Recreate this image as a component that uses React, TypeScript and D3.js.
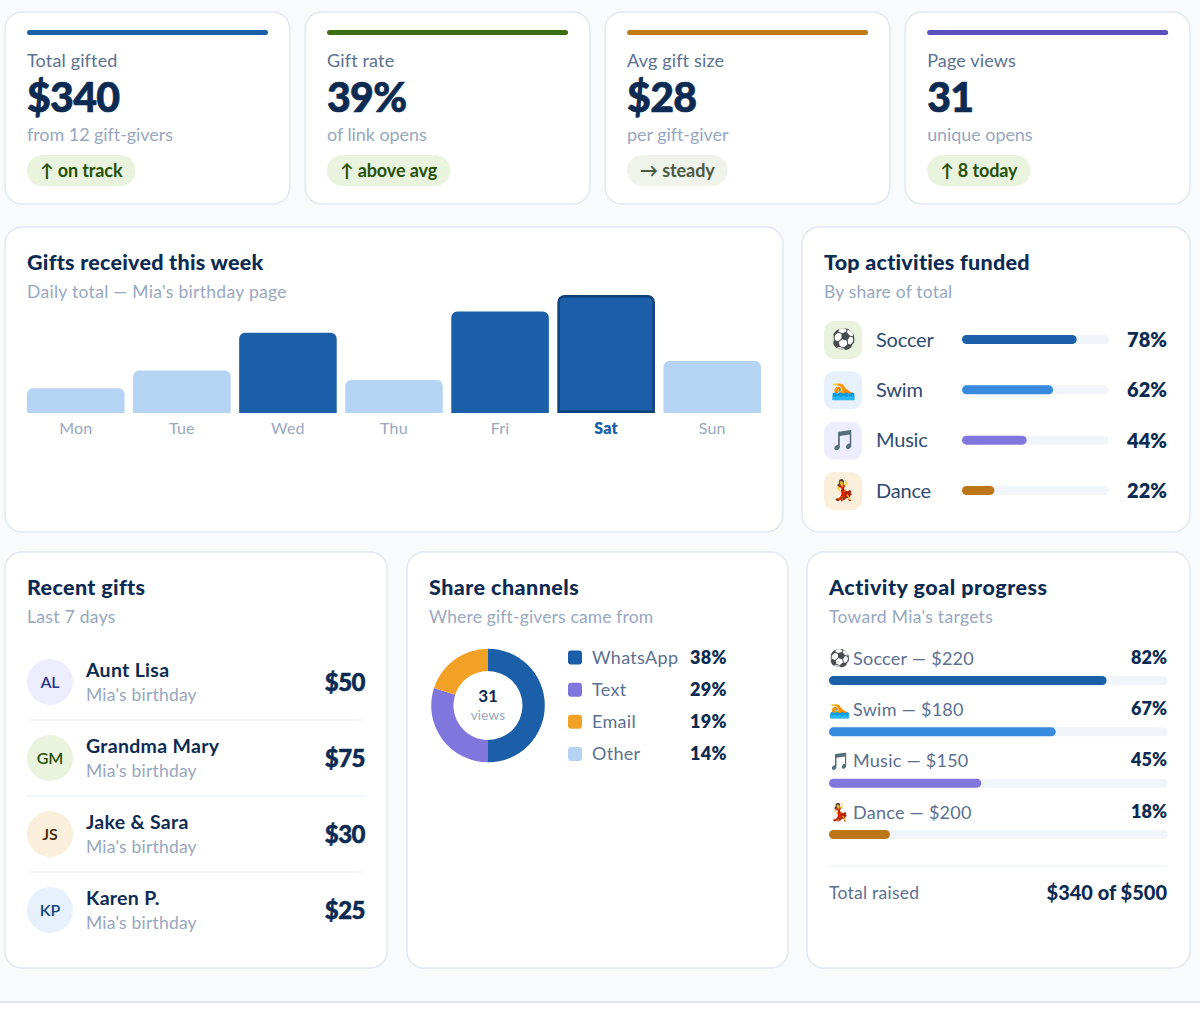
import * as d3 from 'd3'
import { useLayoutEffect, useRef, useState } from 'react'

const kpiLabels = ['Total gifted', 'Gift rate', 'Avg gift size', 'Page views']
const kpiValues = ['$340', '39%', '$28', '31']
const kpiNotes = ['from 12 gift-givers', 'of link opens', 'per gift-giver', 'unique opens']
const kpiBadges = ['↑ on track', '↑ above avg', '→ steady', '↑ 8 today']
const kpiAccents = ['#1a5fa8', '#3b6d11', '#c27a12', '#5b4fc0']

const days = ['Mon', 'Tue', 'Wed', 'Thu', 'Fri', 'Sat', 'Sun']
const dayValues = [21, 36, 68, 28, 86, 100, 44]
const strongDays = ['Wed', 'Fri', 'Sat']
const peakDay = 'Sat'

const activities = ['Soccer', 'Swim', 'Music', 'Dance']
const activityIcons = ['⚽', '🏊', '🎵', '💃']
const activityShares = [78, 62, 44, 22]
const activityColors = ['#1a5fa8', '#378add', '#8176dd', '#bb7618']
const activityTints = ['#eaf3de', '#e7f1fb', '#eeedfe', '#faefda']

const givers = ['Aunt Lisa', 'Grandma Mary', 'Jake & Sara', 'Karen P.']
const giverInitials = ['AL', 'GM', 'JS', 'KP']
const giverAmounts = ['$50', '$75', '$30', '$25']
const giverTints = ['#eeedfe', '#eaf3de', '#faefda', '#e7f1fb']
const giverInks = ['#27348b', '#27500a', '#412402', '#0c447c']

const channels = ['WhatsApp', 'Text', 'Email', 'Other']
const channelShares = [38, 29, 19, 14]
const channelColors = ['#1a5fa8', '#8176dd', '#f2a127', '#b5d4f4']
// the ring in the picture does not follow the legend numbers
const ringShares = [50, 30, 20]

const goalAmounts = ['$220', '$180', '$150', '$200']
const goalProgress = [82, 67, 45, 18]

const FONT = 'Lato, "Noto Sans", sans-serif'
const DARK = '#0d2b52'
const MID = '#5c7090'
const MUTED = '#98a7c0'
const LINE = '#e2e8f2'
const TRACK = '#f1f5f9'

const CARD_R = 17

function Card({ x0, x1, y0, y1 }: { x0: number; x1: number; y0: number; y1: number }) {
  return <rect x={x0} y={y0} width={x1 - x0} height={y1 - y0} rx={CARD_R} fill="#fff" stroke={LINE} strokeWidth={1.5} />
}

function Label({ x, y, size, weight = 400, fill = DARK, anchor = 'start', children, spacing = 0, thick = 0 }: any) {
  return (
    <text
      x={x}
      y={y}
      fontSize={size}
      fontWeight={weight}
      fill={fill}
      textAnchor={anchor}
      letterSpacing={spacing}
      stroke={thick ? fill : 'none'}
      strokeWidth={thick}
    >
      {children}
    </text>
  )
}

function Pill({ x, y, text, bg, ink }: { x: number; y: number; text: string; bg: string; ink: string }) {
  const ref = useRef<SVGTextElement>(null)
  const [w, setW] = useState(90)
  useLayoutEffect(() => {
    if (ref.current) setW(ref.current.getComputedTextLength())
  }, [text])
  return (
    <g>
      <rect x={x} y={y} width={w + 26} height={31} rx={15.5} fill={bg} />
      <text ref={ref} x={x + 13} y={y + 21.5} fontSize={18} fontWeight={700} fill={ink} letterSpacing={-0.1}>
        {text}
      </text>
    </g>
  )
}

// flat at the bottom, rounded at the top
function barPath(x: number, y: number, w: number, h: number, r: number) {
  const p = d3.path()
  p.moveTo(x, y + h)
  p.lineTo(x, y + r)
  p.arcTo(x, y, x + r, y, r)
  p.lineTo(x + w - r, y)
  p.arcTo(x + w, y, x + w, y + r, r)
  p.lineTo(x + w, y + h)
  p.closePath()
  return p.toString()
}

function Meter({ x0, x1, y, h, value, color }: any) {
  const x = d3.scaleLinear().domain([0, 100]).range([x0, x1])
  return (
    <g>
      <rect x={x(0)} y={y} width={x(100) - x(0)} height={h} rx={h / 2} fill={TRACK} />
      <rect x={x(0)} y={y} width={x(value) - x(0)} height={h} rx={h / 2} fill={color} />
    </g>
  )
}

export default function App() {
  const kpiX = d3.scaleBand<number>().domain(d3.range(4)).range([5, 1190]).paddingInner(0.0506)
  const barX = d3.scaleBand<string>().domain(days).range([27, 761]).paddingInner(0.08)
  const barY = d3.scaleLinear().domain([0, 100]).range([413, 295])
  const activityY = d3.scalePoint<string>().domain(activities).range([340, 491])
  const giverY = d3.scalePoint<string>().domain(givers).range([682, 910])
  const channelY = d3.scalePoint<string>().domain(channels).range([657.5, 754])
  const goalY = d3.scalePoint<string>().domain(activities).range([676, 830])

  const pie = d3.pie<number>().sort(null).value((d) => d)
  const arc = d3.arc<d3.PieArcDatum<number>>().innerRadius(34.5).outerRadius(56.8)

  return (
    <svg
      width={1200}
      height={1021}
      viewBox="0 0 1200 1021"
      style={{ position: 'absolute', left: 0, top: 0, fontFamily: FONT }}
    >
      <rect width={1200} height={1021} fill="#fff" />
      <rect width={1200} height={1002} fill="#f8fafc" />
      <rect y={1001} width={1200} height={2} fill={LINE} />

      {kpiLabels.map((label, i) => {
        const x0 = kpiX(i)!
        const left = x0 + 22
        const flat = kpiBadges[i].startsWith('→')
        return (
          <g key={label}>
            <Card x0={x0} x1={x0 + kpiX.bandwidth()} y0={12} y1={204} />
            <rect x={left} y={30} width={241} height={5} rx={2.5} fill={kpiAccents[i]} />
            <Label x={left} y={66.5} size={18} fill={MID} spacing={0.15}>{label}</Label>
            <Label x={left} y={111.5} size={41} weight={900} spacing={-0.7} thick={0.7}>{kpiValues[i]}</Label>
            <Label x={left} y={141} size={18} fill={MUTED} spacing={-0.07}>{kpiNotes[i]}</Label>
            <Pill
              x={left}
              y={155}
              text={kpiBadges[i]}
              bg={flat ? '#f0f2ec' : '#eaf3de'}
              ink={flat ? '#4c5a42' : '#27500a'}
            />
          </g>
        )
      })}

      <Card x0={5} x1={783} y0={227} y1={532} />
      <Label x={27} y={270} size={21.5} weight={900} spacing={0.25}>Gifts received this week</Label>
      <Label x={27} y={297.5} size={17.5} fill={MUTED} spacing={0.3}>Daily total — Mia's birthday page</Label>
      {days.map((day, i) => {
        const peak = day === peakDay
        const x = barX(day)!
        const w = barX.bandwidth()
        const y = barY(dayValues[i])
        const h = barY(0) - y
        return (
          <g key={day}>
            <path
              d={peak ? barPath(x + 1.2, y + 1.2, w - 2.4, h - 2.4, 6) : barPath(x, y, w, h, 6)}
              fill={strongDays.includes(day) ? '#1a5fa8' : '#b5d4f4'}
              stroke={peak ? '#0f4178' : 'none'}
              strokeWidth={peak ? 2.4 : 0}
            />
            <Label
              x={x + w / 2}
              y={434}
              size={16}
              anchor="middle"
              weight={peak ? 800 : 400}
              fill={peak ? '#1a5fa8' : MUTED}
              spacing={0.2}
            >
              {day}
            </Label>
          </g>
        )
      })}

      <Card x0={802} x1={1190} y0={227} y1={532} />
      <Label x={824} y={270} size={21.5} weight={900} spacing={0.25}>Top activities funded</Label>
      <Label x={824} y={297.5} size={17.5} fill={MUTED} spacing={0.2}>By share of total</Label>
      {activities.map((name, i) => {
        const y = activityY(name)!
        return (
          <g key={name}>
            <rect x={824} y={y - 19} width={38} height={38} rx={10} fill={activityTints[i]} />
            <text x={843} y={y + 6} fontSize={20} textAnchor="middle">{activityIcons[i]}</text>
            <Label x={876} y={y + 6.5} size={20} fill="#2f4a70" spacing={-0.2}>{name}</Label>
            <Meter x0={962} x1={1109} y={y - 5} h={9} value={activityShares[i]} color={activityColors[i]} />
            <Label x={1167} y={y + 7} size={20} weight={800} anchor="end">{activityShares[i]}%</Label>
          </g>
        )
      })}

      <Card x0={5} x1={387} y0={552} y1={968} />
      <Label x={27} y={595} size={21.5} weight={900} spacing={0.35}>Recent gifts</Label>
      <Label x={27} y={622.5} size={17.5} fill={MUTED} spacing={0.3}>Last 7 days</Label>
      {givers.map((name, i) => {
        const y = giverY(name)!
        return (
          <g key={name}>
            {i > 0 && <line x1={27} x2={365} y1={y - 38} y2={y - 38} stroke={TRACK} strokeWidth={1.5} />}
            <circle cx={50} cy={y} r={23} fill={giverTints[i]} />
            <Label x={50} y={y + 6} size={16} weight={600} fill={giverInks[i]} anchor="middle">{giverInitials[i]}</Label>
            <Label x={86} y={y - 5} size={19.5} weight={700} spacing={0.3}>{name}</Label>
            <Label x={86} y={y + 19} size={17.5} fill={MUTED} spacing={0.2}>Mia's birthday</Label>
            <Label x={365} y={y + 9} size={24} weight={900} anchor="end" spacing={-0.5} thick={0.5}>{giverAmounts[i]}</Label>
          </g>
        )
      })}

      <Card x0={407} x1={788} y0={552} y1={968} />
      <Label x={429} y={595} size={21.5} weight={900} spacing={0.45}>Share channels</Label>
      <Label x={429} y={622.5} size={17.5} fill={MUTED} spacing={0.15}>Where gift-givers came from</Label>
      <g transform="translate(488,705.5)">
        {pie(ringShares).map((slice, i) => (
          <path key={i} d={arc(slice) ?? ''} fill={channelColors[i]} />
        ))}
      </g>
      <Label x={488} y={702} size={17} weight={700} anchor="middle">31</Label>
      <Label x={488} y={720} size={13.5} fill={MUTED} anchor="middle" spacing={0.2}>views</Label>
      {channels.map((name, i) => {
        const y = channelY(name)!
        return (
          <g key={name}>
            <rect x={568} y={y - 7} width={14} height={14} rx={3} fill={channelColors[i]} />
            <Label x={592} y={y + 6} size={18} fill={MID} spacing={0.3}>{name}</Label>
            <Label x={690} y={y + 6} size={18} weight={800} spacing={0.3}>{channelShares[i]}%</Label>
          </g>
        )
      })}

      <Card x0={807} x1={1190} y0={552} y1={968} />
      <Label x={829} y={595} size={21.5} weight={900} spacing={0.5}>Activity goal progress</Label>
      <Label x={829} y={622.5} size={17.5} fill={MUTED} spacing={0.3}>Toward Mia's targets</Label>
      {activities.map((name, i) => {
        const y = goalY(name)!
        return (
          <g key={name}>
            <text x={829} y={y - 12} fontSize={17}>{activityIcons[i]}</text>
            <Label x={853} y={y - 11.5} size={18} fill={MID} spacing={0.25}>{name} — {goalAmounts[i]}</Label>
            <Label x={1167} y={y - 12.5} size={18} weight={800} anchor="end">{goalProgress[i]}%</Label>
            <Meter x0={829} x1={1167.5} y={y} h={9} value={goalProgress[i]} color={activityColors[i]} />
          </g>
        )
      })}
      <line x1={829} x2={1167} y1={866} y2={866} stroke={TRACK} strokeWidth={1.5} />
      <Label x={829} y={898.5} size={17.5} fill={MID} spacing={0.25}>Total raised</Label>
      <Label x={1167} y={900} size={20} weight={900} anchor="end">$340 of $500</Label>
    </svg>
  )
}
